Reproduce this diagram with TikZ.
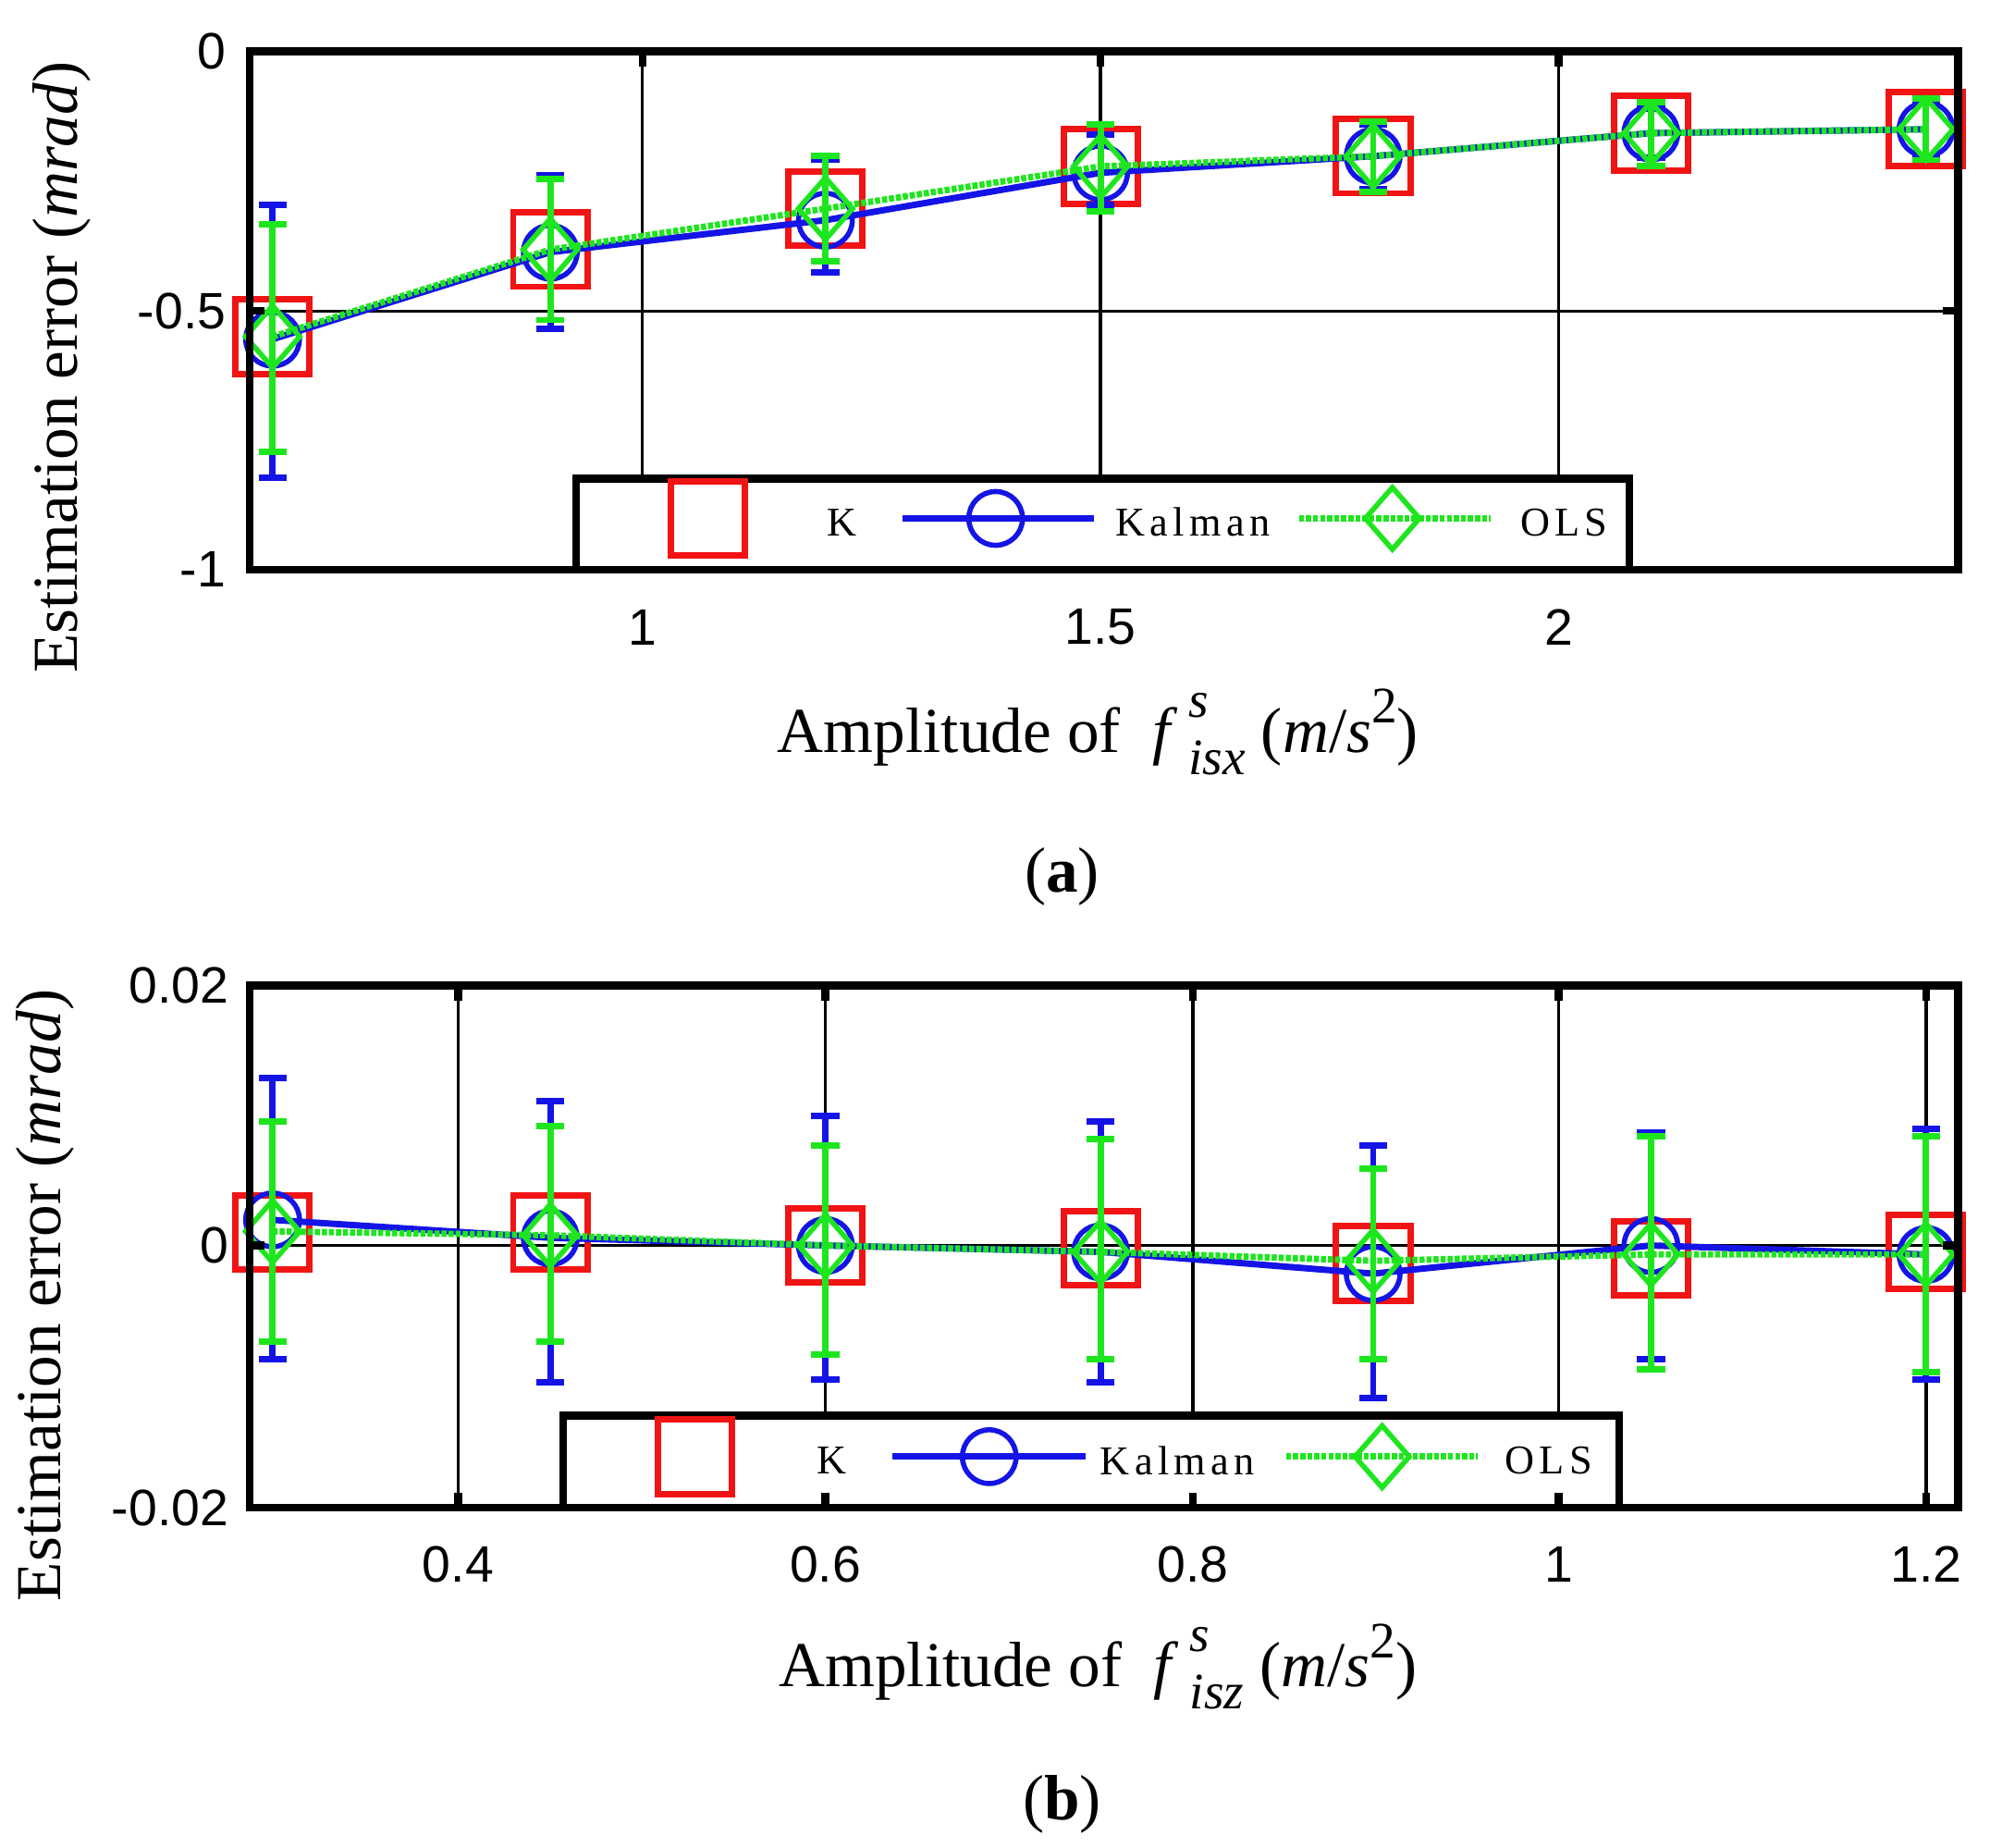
\documentclass[tikz,border=0pt]{standalone}
\usepackage{fontspec}
\setmainfont{Liberation Serif}
\newfontfamily\tsans{Liberation Sans}
\newfontfamily\legfont[LetterSpace=12]{Liberation Serif}
\usetikzlibrary{shapes.geometric}
\definecolor{myred}{RGB}{240,20,20}
\definecolor{myblue}{RGB}{20,20,230}
\definecolor{mygreen}{RGB}{30,230,30}
\newcommand{\scr}[1]{{\fontsize{40}{44}\selectfont\textit{#1}}}
\newcommand{\fvar}[1]{\textit{f}\,\rlap{\raisebox{0.55em}{\scr{s}}}\raisebox{-0.35em}{\scr{#1}}}
\begin{document}
\begin{tikzpicture}[x=1pt,y=-1pt,
  frame/.style={line width=6pt,black},
  grid/.style={line width=2.5pt,black},
  tick/.style={font=\tsans\fontsize{40}{44}\selectfont},
  axl/.style={font=\fontsize{50}{56}\selectfont},
  leg/.style={font=\legfont\fontsize{32}{36}\selectfont},
  sq/.style={draw=myred,line width=5pt,minimum size=58pt,inner sep=0pt,rectangle},
  circ/.style={draw=myblue,line width=4pt,minimum size=42pt,inner sep=0pt,circle},
  dia/.style={draw=mygreen,line width=4pt,minimum width=44pt,minimum height=50pt,inner sep=0pt,diamond,aspect=0.9},
  bl/.style={myblue,line width=5pt},
  gl/.style={mygreen,line width=5pt,dash pattern=on 4pt off 1.5pt},
  be/.style={myblue,line width=5pt},
  ge/.style={mygreen,line width=5pt}]
\useasboundingbox (0,0) rectangle (1555,1443);
% ---------- panel (a)
\foreach \x in {502,860,1218} \draw[grid] (\x,40) -- (\x,445);
\draw[grid] (195,243) -- (1530,243);
\foreach \x/\y in {213/263,430/195,645/163,860/130,1073/122,1290/104,1505/101}
  \node[sq] at (\x,\y) {};
\draw[bl] (213,265) -- (430,197) -- (645,172) -- (860,135) -- (1073,122) -- (1290,104) -- (1505,101);
\foreach \x/\a/\b in {213/160/373,430/137/257,645/125/213,860/105/160,1073/97/148,1290/85/123,1505/80/122}
  {\draw[be] (\x,\a) -- (\x,\b); \draw[be] (\x-11,\a) -- (\x+11,\a); \draw[be] (\x-11,\b) -- (\x+11,\b);}
\foreach \x/\y in {213/265,430/197,645/172,860/135,1073/122,1290/104,1505/101}
  \node[circ] at (\x,\y) {};
\draw[gl] (213,263) -- (430,195) -- (645,163) -- (860,130) -- (1073,122) -- (1290,104) -- (1505,101);
\foreach \x/\a/\b in {213/175/353,430/140/250,645/122/204,860/97/165,1073/95/150,1290/80/130,1505/77/125}
  {\draw[ge] (\x,\a) -- (\x,\b); \draw[ge] (\x-11,\a) -- (\x+11,\a); \draw[ge] (\x-11,\b) -- (\x+11,\b);}
\foreach \x/\y in {213/263,430/195,645/163,860/130,1073/122,1290/104,1505/101}
  \node[dia] at (\x,\y) {};
\draw[frame,fill=white] (450,445) -- (450,374) -- (1273,374) -- (1273,445);
\node[sq] at (553,405) {};
\node[leg] at (658,408) {K};
\draw[myblue,line width=5pt] (705,405) -- (855,405); \node[circ] at (778,405) {};
\node[leg] at (932,408) {Kalman};
\draw[gl] (1015,405) -- (1165,405); \node[dia] at (1088,405) {};
\node[leg] at (1222,408) {OLS};
\draw[frame] (195,40) rectangle (1530,445);
\foreach \y in {243} {\draw[frame] (195,\y) -- (207,\y); \draw[frame] (1518,\y) -- (1530,\y);}
\foreach \x in {502,860,1218} {\draw[frame] (\x,40) -- (\x,52);}
\node[tick,anchor=east] at (180,40) {0};
\node[tick,anchor=east] at (180,243) {-0.5};
\node[tick,anchor=east] at (180,445) {-1};
\node[tick] at (502,490) {1};
\node[tick] at (860,490) {1.5};
\node[tick] at (1218,490) {2};
\node[axl] at (858,572) {Amplitude of \ \fvar{isx} (\textit{m}/\textit{s}\raisebox{0.45em}{\scr{\upshape 2}})};
\node[axl,rotate=90] at (48,287) {Estimation error (\textit{mrad})};
\node[axl] at (830,685) {(\textbf{a})};
% ---------- panel (b)
\foreach \x in {358,645,932,1218,1505} \draw[grid] (\x,770) -- (\x,1178);
\draw[grid] (195,973) -- (1530,973);
\foreach \x/\y in {213/963,430/963,645/973,860/975,1073/987,1290/983,1505/978}
  \node[sq] at (\x,\y) {};
\draw[bl] (213,953) -- (430,967) -- (645,973) -- (860,978) -- (1073,995) -- (1290,973) -- (1505,980);
\foreach \x/\a/\b in {213/842/1062,430/860/1080,645/872/1078,860/876/1080,1073/895/1092,1290/885/1062,1505/882/1078}
  {\draw[be] (\x,\a) -- (\x,\b); \draw[be] (\x-11,\a) -- (\x+11,\a); \draw[be] (\x-11,\b) -- (\x+11,\b);}
\foreach \x/\y in {213/953,430/967,645/973,860/978,1073/995,1290/973,1505/980}
  \node[circ] at (\x,\y) {};
\draw[gl] (213,962) -- (430,965) -- (645,973) -- (860,978) -- (1073,985) -- (1290,980) -- (1505,980);
\foreach \x/\a/\b in {213/876/1048,430/880/1048,645/895/1058,860/890/1062,1073/913/1062,1290/888/1070,1505/888/1072}
  {\draw[ge] (\x,\a) -- (\x,\b); \draw[ge] (\x-11,\a) -- (\x+11,\a); \draw[ge] (\x-11,\b) -- (\x+11,\b);}
\foreach \x/\y in {213/962,430/965,645/973,860/978,1073/985,1290/980,1505/980}
  \node[dia] at (\x,\y) {};
\draw[frame,fill=white] (440,1178) -- (440,1106) -- (1265,1106) -- (1265,1178);
\node[sq] at (543,1138) {};
\node[leg] at (650,1141) {K};
\draw[myblue,line width=5pt] (697,1138) -- (848,1138); \node[circ] at (773,1138) {};
\node[leg] at (920,1141) {Kalman};
\draw[gl] (1005,1138) -- (1155,1138); \node[dia] at (1080,1138) {};
\node[leg] at (1210,1141) {OLS};
\draw[frame] (195,770) rectangle (1530,1178);
\foreach \x in {358,645,932,1218,1505} {\draw[frame] (\x,770) -- (\x,782); \draw[frame] (\x,1166) -- (\x,1178);}
\draw[frame] (195,973) -- (207,973); \draw[frame] (1518,973) -- (1530,973);
\node[tick,anchor=east] at (182,770) {0.02};
\node[tick,anchor=east] at (182,973) {0};
\node[tick,anchor=east] at (182,1178) {-0.02};
\node[tick] at (358,1222) {0.4};
\node[tick] at (645,1222) {0.6};
\node[tick] at (932,1222) {0.8};
\node[tick] at (1218,1222) {1};
\node[tick] at (1505,1222) {1.2};
\node[axl] at (858,1302) {Amplitude of \ \fvar{isz} (\textit{m}/\textit{s}\raisebox{0.45em}{\scr{\upshape 2}})};
\node[axl,rotate=90] at (35,1012) {Estimation error (\textit{mrad})};
\node[axl] at (830,1410) {(\textbf{b})};
\end{tikzpicture}
\end{document}
